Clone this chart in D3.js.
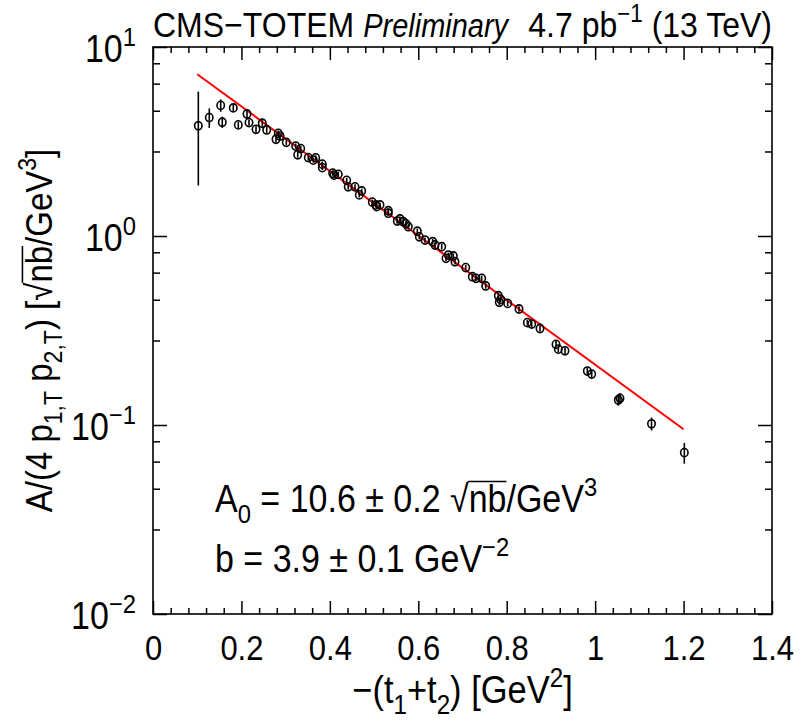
<!DOCTYPE html>
<html>
<head>
<meta charset="utf-8">
<script src="https://cdn.jsdelivr.net/npm/d3@7"></script>
<style>
  body { margin: 0; background: #fff; }
  svg { display: block; font-family: "Liberation Sans", Arial, sans-serif; }
</style>
</head>
<body>
<svg id="chart" width="803" height="721"></svg>
<script>
// data: -(t1+t2) in GeV^2, A/(4 p1T p2T) and its error
var tVals = [0.1025, 0.1273, 0.1531, 0.1567, 0.1816, 0.1929, 0.2126, 0.2171, 0.2330, 0.2472,
  0.2572, 0.2782, 0.2834, 0.2872, 0.3015, 0.3227, 0.3273, 0.3341, 0.3512, 0.3626,
  0.3680, 0.3829, 0.3829, 0.4064, 0.4094, 0.4191, 0.4381, 0.4415, 0.4569, 0.4666,
  0.4720, 0.4960, 0.5037, 0.5060, 0.5134, 0.5322, 0.5322, 0.5525, 0.5586, 0.5661,
  0.5722, 0.5774, 0.5978, 0.6023, 0.6152, 0.6326, 0.6378, 0.6530, 0.6627, 0.6679,
  0.6792, 0.6830, 0.7073, 0.7222, 0.7305, 0.7434, 0.7525, 0.7810, 0.7832, 0.7864,
  0.8022, 0.8278, 0.8466, 0.8565, 0.8753, 0.9115, 0.9167, 0.9318, 0.9823, 0.9922,
  1.0524, 1.0562, 1.1275, 1.2017]
var aVals = [3.83, 4.23, 4.91, 4.00, 4.76, 3.87, 4.42, 3.98, 3.67, 3.95,
  3.64, 3.25, 3.49, 3.38, 3.13, 2.99, 2.69, 2.90, 2.60, 2.52,
  2.59, 2.40, 2.30, 2.15, 2.10, 2.12, 1.97, 1.82, 1.82, 1.65,
  1.73, 1.51, 1.46, 1.43, 1.46, 1.36, 1.32, 1.20, 1.23, 1.19,
  1.16, 1.12, 1.06, 0.99, 0.952, 0.933, 0.896, 0.878, 0.762, 0.793,
  0.784, 0.731, 0.680, 0.609, 0.597, 0.597, 0.544, 0.483, 0.446, 0.462,
  0.440, 0.411, 0.348, 0.342, 0.324, 0.267, 0.252, 0.247, 0.193, 0.186,
  0.1356, 0.1384, 0.1015, 0.0714]
var aErr = [1.98, 0.5, 0.37, 0.27, 0.2, 0.15, 0.2, 0.15, 0.14, 0.15,
  0.13, 0.12, 0.12, 0.12, 0.11, 0.1, 0.09, 0.1, 0.09, 0.08,
  0.08, 0.08, 0.07, 0.07, 0.07, 0.07, 0.06, 0.06, 0.06, 0.05,
  0.05, 0.05, 0.05, 0.04, 0.04, 0.04, 0.04, 0.04, 0.04, 0.04,
  0.04, 0.035, 0.035, 0.03, 0.03, 0.03, 0.03, 0.03, 0.025, 0.025,
  0.025, 0.025, 0.022, 0.02, 0.02, 0.02, 0.018, 0.017, 0.016, 0.016,
  0.015, 0.014, 0.012, 0.012, 0.012, 0.011, 0.01, 0.01, 0.008, 0.008,
  0.009, 0.009, 0.008, 0.009]
// exponential fit, end points of the drawn curve
var fitT = [0.1, 1.2]
var fitA = [7.18, 0.095]

var xMajor = [0, 0.2, 0.4, 0.6, 0.8, 1.0, 1.2, 1.4]
var xTickLabels = ['0', '0.2', '0.4', '0.6', '0.8', '1', '1.2', '1.4']
var yMajor = [0.01, 0.1, 1, 10]
var yTickExp = ['\u22122', '\u22121', '0', '1']
var yMinorSteps = [2.8, 4.6, 6.4, 8.2]

var svg = d3.select('#chart')
var frameL = 153
var frameR = 772
var frameT = 47
var frameB = 614
var stretch = 1.12 // the reference glyphs are a bit taller than wide

var x = d3.scaleLinear().domain([0, 1.4]).range([frameL, frameR])
var y = d3.scaleLog().domain([0.01, 10]).range([frameB, frameT])

// write text made of pieces: [string, 'sub'|'sup'|'', tag]
function rich (sel, parts, size) {
  var shift = 0
  parts.forEach(function (p) {
    var target = p[1] === 'sub' ? 0.28 * size : (p[1] === 'sup' ? -0.42 * size : 0)
    var ts = sel.append('tspan').text(p[0]).attr('dy', target - shift)
    if (p[1]) ts.attr('font-size', 0.7 * size)
    if (p[2]) ts.attr('class', p[2])
    shift = target
  })
}

// a text group placed at a baseline point, stretched vertically
function label (px, py, size, rot) {
  var g = svg.append('g')
    .attr('transform', 'translate(' + px + ',' + py + ')' + (rot ? ' rotate(' + rot + ')' : '') +
      ' scale(1,' + stretch + ')')
  var t = g.append('text').attr('font-size', size)
  return { g: g, t: t }
}

// overline over the nb under the root sign
function overline (lb, size) {
  var sq = lb.t.select('.sq').node().getBBox()
  var nb = lb.t.select('.ov').node().getBBox()
  lb.g.append('line')
    .attr('x1', sq.x + sq.width - 1).attr('x2', nb.x + nb.width)
    .attr('y1', -0.8 * size).attr('y2', -0.8 * size)
    .attr('stroke', '#000').attr('stroke-width', 1.4)
}

var xMinor = d3.range(0, 1.4001, 0.04).filter(function (d) {
  return Math.abs(d / 0.2 - Math.round(d / 0.2)) > 0.01
})
var yMinor = []
yMajor.slice(0, 3).forEach(function (d) {
  yMinorSteps.forEach(function (s) { yMinor.push(d * s) })
})

function styleAxis (g) {
  g.select('.domain').remove()
  g.selectAll('line').attr('stroke', '#000').attr('stroke-width', 1.5)
  g.selectAll('text').attr('font-size', 31).attr('fill', '#000')
    .attr('font-family', '"Liberation Sans", Arial, sans-serif')
    .attr('transform', 'scale(1,' + stretch + ')')
}

svg.append('g').attr('transform', 'translate(0,' + frameB + ')')
  .call(d3.axisBottom(x).tickValues(xMajor).tickSize(-13).tickPadding(19)
    .tickFormat(function (d, i) { return xTickLabels[i] }))
  .call(styleAxis)
svg.append('g').attr('transform', 'translate(0,' + frameB + ')')
  .call(d3.axisBottom(x).tickValues(xMinor).tickSize(-6).tickFormat(''))
  .call(styleAxis)
svg.append('g').attr('transform', 'translate(0,' + frameT + ')')
  .call(d3.axisTop(x).tickValues(xMajor).tickSize(-13).tickFormat(''))
  .call(styleAxis)
svg.append('g').attr('transform', 'translate(0,' + frameT + ')')
  .call(d3.axisTop(x).tickValues(xMinor).tickSize(-6).tickFormat(''))
  .call(styleAxis)
svg.append('g').attr('transform', 'translate(' + frameL + ',0)')
  .call(d3.axisLeft(y).tickValues(yMajor).tickSize(-14).tickFormat(''))
  .call(styleAxis)
svg.append('g').attr('transform', 'translate(' + frameL + ',0)')
  .call(d3.axisLeft(y).tickValues(yMinor).tickSize(-7).tickFormat(''))
  .call(styleAxis)
svg.append('g').attr('transform', 'translate(' + frameR + ',0)')
  .call(d3.axisRight(y).tickValues(yMajor).tickSize(-14).tickFormat(''))
  .call(styleAxis)
svg.append('g').attr('transform', 'translate(' + frameR + ',0)')
  .call(d3.axisRight(y).tickValues(yMinor).tickSize(-7).tickFormat(''))
  .call(styleAxis)

// y labels 10^n
yMajor.forEach(function (d, i) {
  var lb = label(frameL - 17, y(d) + 15, 34)
  lb.t.attr('text-anchor', 'end')
  rich(lb.t, [['10', ''], [yTickExp[i], 'sup']], 34)
})

svg.append('rect')
  .attr('x', frameL).attr('y', frameT).attr('width', frameR - frameL).attr('height', frameB - frameT)
  .attr('fill', 'none').attr('stroke', '#000').attr('stroke-width', 1.6)

// fit line
var pts = fitT.map(function (d, i) { return [d, fitA[i]] })
svg.append('path').datum(pts)
  .attr('d', d3.line().x(function (d) { return x(d[0]) }).y(function (d) { return y(d[1]) }))
  .attr('fill', 'none').attr('stroke', '#ff0000').attr('stroke-width', 2)

// data points with error bars
var pData = tVals.map(function (d, i) { return { t: d, a: aVals[i], e: aErr[i] } })
var pg = svg.append('g')
pg.selectAll('line').data(pData).enter().append('line')
  .attr('x1', function (d) { return x(d.t) }).attr('x2', function (d) { return x(d.t) })
  .attr('y1', function (d) { return y(d.a + d.e) }).attr('y2', function (d) { return y(d.a - d.e) })
  .attr('stroke', '#000').attr('stroke-width', 1.6)
pg.selectAll('ellipse').data(pData).enter().append('ellipse')
  .attr('cx', function (d) { return x(d.t) }).attr('cy', function (d) { return y(d.a) })
  .attr('rx', 3.7).attr('ry', 4.1).attr('fill', 'none').attr('stroke', '#000').attr('stroke-width', 1.6)

// header
var head = label(frameL, 37, 32)
head.t.append('tspan').text('CMS\u2212TOTEM')
head.t.append('tspan').text('Preliminary').attr('dx', 9).attr('font-style', 'italic').attr('font-size', 29)
var lumi = label(frameR, 37, 32)
lumi.t.attr('text-anchor', 'end')
rich(lumi.t, [['4.7 pb', ''], ['\u22121', 'sup'], [' (13 TeV)', '']], 32)

// axis titles
var xt = label((frameL + frameR) / 2, 703, 34.5)
xt.t.attr('text-anchor', 'middle')
rich(xt.t, [['\u2212(t', ''], ['1', 'sub'], ['+t', ''], ['2', 'sub'], [') [GeV', ''], ['2', 'sup'], [']', '']], 34.5)

var yt = label(52, (frameT + frameB) / 2, 33, -90)
yt.t.attr('text-anchor', 'middle')
rich(yt.t, [['A/(4 p', ''], ['1,T', 'sub'], [' p', ''], ['2,T', 'sub'], [') [', ''],
  ['\u221a', '', 'sq'], ['nb', '', 'ov'], ['/GeV', ''], ['3', 'sup'], [']', '']], 33)
overline(yt, 33)

// fit results
var f1 = label(215, 512, 34)
rich(f1.t, [['A', ''], ['0', 'sub'], [' = 10.6 \u00b1 0.2 ', ''], ['\u221a', '', 'sq'], ['nb', '', 'ov'],
  ['/GeV', ''], ['3', 'sup']], 34)
overline(f1, 34)
var f2 = label(215, 572, 34)
rich(f2.t, [['b = 3.9 \u00b1 0.1 GeV', ''], ['\u22122', 'sup']], 34)
</script>
</body>
</html>
